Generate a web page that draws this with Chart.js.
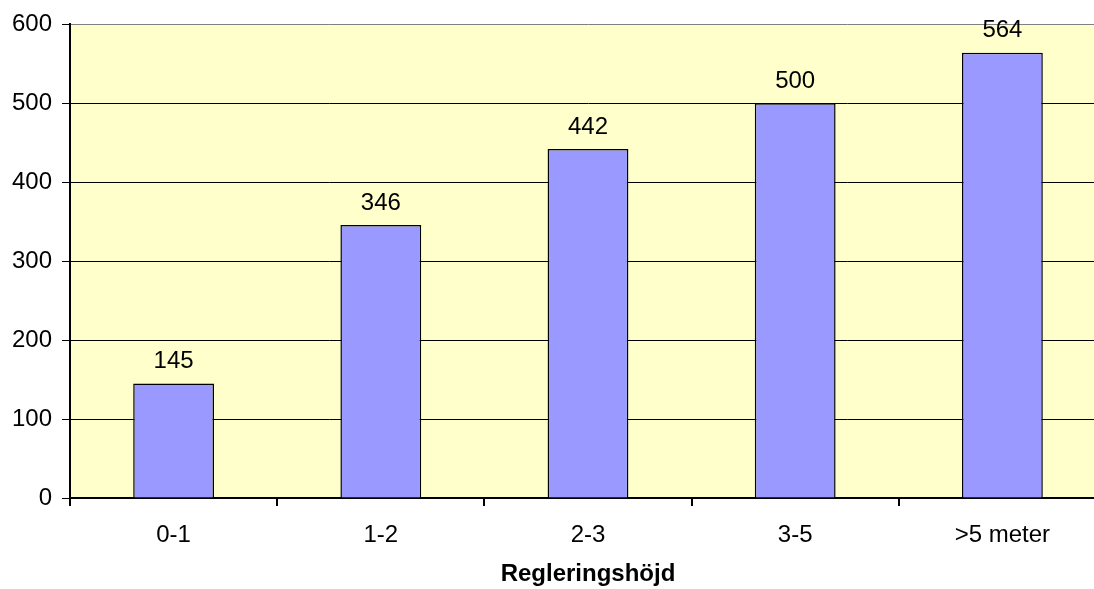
<!DOCTYPE html>
<html>
<head>
<meta charset="utf-8">
<script src="https://cdn.jsdelivr.net/npm/chart.js@4"></script>
<style>
  html, body { margin: 0; padding: 0; background: #fff; overflow: hidden; }
  #wrap { width: 1106px; height: 589px; }
</style>
</head>
<body>
<div id="wrap"><canvas id="myChart"></canvas></div>
<script>
// data
let labels = ['0-1', '1-2', '2-3', '3-5', '>5 meter'];
let values = [145, 346, 442, 500, 564];
let yTicks = [0, 100, 200, 300, 400, 500, 600];
let xTitle = 'Regleringshöjd';

const FONT = '"Liberation Sans", Arial, sans-serif';
const FSIZE = 24;

/* yellow plot background */
const plotBg = {
    id: 'plotBg',
    beforeDraw(chart) {
        const a = chart.chartArea;
        const ctx = chart.ctx;
        ctx.save();
        ctx.fillStyle = '#FFFFCC';
        ctx.fillRect(a.left, a.top, a.right - a.left, a.bottom - a.top);
        ctx.restore();
    }
};

/* value labels on top of the bars */
const barValues = {
    id: 'barValues',
    afterDatasetsDraw(chart) {
        const ctx = chart.ctx;
        const meta = chart.getDatasetMeta(0);
        ctx.save();
        ctx.font = FSIZE + 'px ' + FONT;
        ctx.fillStyle = '#000';
        ctx.textAlign = 'center';
        ctx.textBaseline = 'bottom';
        meta.data.forEach((bar, i) => {
            ctx.fillText(values[i], bar.x, bar.y - 10);
        });
        ctx.restore();
    }
};

let data = {
    labels: labels,
    datasets: [{
        data: values,
        backgroundColor: '#9999FF',
        borderColor: '#000',
        borderWidth: 1.5,
        categoryPercentage: 1,
        barPercentage: 0.39
    }]
};

let config = {
    type: 'bar',
    data: data,
    options: {
        responsive: true,
        maintainAspectRatio: false,
        animation: false,
        layout: { padding: { top: 22, right: 0, bottom: 0, left: 0 } },
        plugins: {
            legend: { display: false },
            tooltip: { enabled: false }
        },
        scales: {
            x: {
                grid: {
                    offset: true,
                    drawOnChartArea: false,
                    drawTicks: true,
                    tickLength: 8,
                    tickColor: '#000',
                    lineWidth: 2
                },
                border: { color: '#000', width: 2 },
                ticks: {
                    color: '#000',
                    font: { family: FONT, size: FSIZE },
                    padding: 15,
                    maxRotation: 0
                },
                title: {
                    display: true,
                    text: xTitle,
                    color: '#000',
                    font: { family: FONT, size: FSIZE, weight: 'bold' },
                    padding: { top: 0, bottom: 0 }
                },
                afterFit(scale) { scale.height = 91; }
            },
            y: {
                min: 0,
                max: 600,
                afterBuildTicks(scale) {
                    scale.ticks = yTicks.map(v => ({ value: v }));
                },
                grid: {
                    color: ctx => (ctx.tick && ctx.tick.value === 600) ? '#808080' : '#000',
                    lineWidth: 1,
                    drawTicks: true,
                    tickLength: 8,
                    tickColor: '#000'
                },
                border: { color: '#000', width: 2 },
                ticks: {
                    color: '#000',
                    font: { family: FONT, size: FSIZE },
                    padding: 10
                },
                afterFit(scale) { scale.width = 70; }
            }
        }
    },
    plugins: [plotBg, barValues]
};

var myChart = new Chart(document.getElementById('myChart').getContext('2d'), config);
</script>
</body>
</html>
